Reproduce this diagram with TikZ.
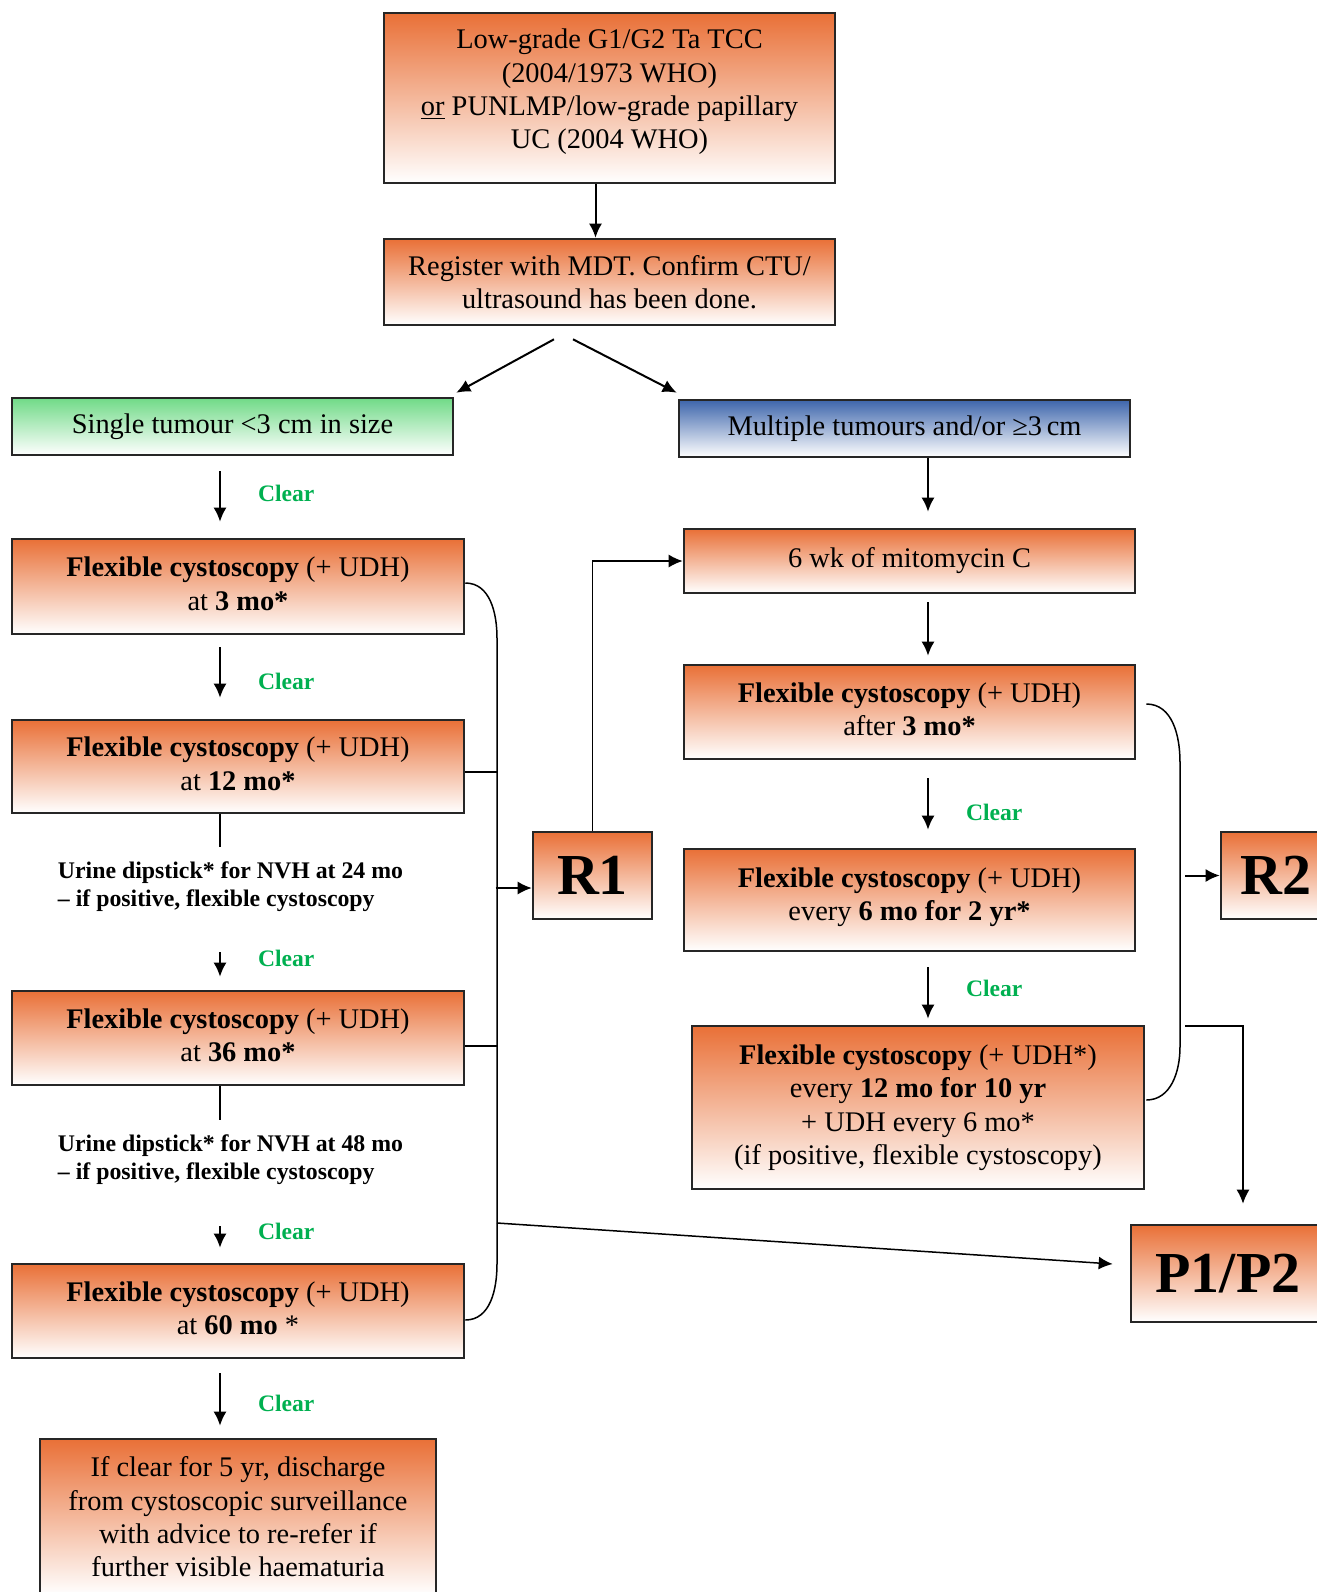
\documentclass[tikz,border=0pt]{standalone}
\usepackage{fontspec}
\setmainfont{Liberation Serif}
\usetikzlibrary{arrows.meta,calc}
\definecolor{orangetop}{RGB}{233,112,55}
\definecolor{greentop}{RGB}{112,218,135}
\definecolor{bluetop}{RGB}{62,102,172}
\definecolor{cleargreen}{RGB}{0,176,80}
\begin{document}
\begin{tikzpicture}[x=0.5pt,y=-0.5pt]
\tikzstyle{box}=[draw=black!85,line width=1.3pt,top color=orangetop,bottom color=white,align=center,inner sep=0pt,font=\fontsize{14.2}{16.7}\selectfont]
\tikzstyle{bigbox}=[box,font=\fontsize{29}{34}\selectfont\bfseries]
\tikzstyle{dip}=[align=left,inner sep=0pt,font=\fontsize{11.9}{14.3}\selectfont\bfseries]
\tikzstyle{clear}=[text=cleargreen,inner sep=0pt,right=18.5pt,font=\fontsize{11.8}{14}\selectfont\bfseries]
\tikzstyle{arr}=[draw,line width=1pt,-{Latex[length=7pt,width=6.5pt]}]
\tikzstyle{link}=[draw,line width=1pt]
\tikzstyle{bracket}=[draw,line width=0.75pt]
\useasboundingbox (0,0) rectangle (1317,1592);
% top of the chart
\node[box,minimum width=225.5pt,minimum height=85pt] (grade) at (609.5,98) {Low-grade G1/G2 Ta TCC\\(2004/1973 WHO)\\\underline{or} PUNLMP/low-grade papillary\\UC (2004 WHO)\rule[-9pt]{0pt}{0pt}};
\node[box,minimum width=225.5pt,minimum height=43pt] (mdt) at (609.5,282) {Register with MDT. Confirm CTU/\\ultrasound has been done.};
\node[box,top color=greentop,minimum width=220.5pt,minimum height=28.5pt] (single) at (232.5,426.5) {Single tumour <3 cm in size};
\node[box,top color=bluetop,minimum width=225.5pt,minimum height=28.5pt] (multi) at (904.5,428.5) {Multiple tumours and/or ≥3\,cm};
% left column
\node[box,minimum width=226pt,minimum height=47.5pt] (cysA) at (238,586.5) {\textbf{Flexible cystoscopy} (+ UDH)\\at \textbf{3 mo*}\rule[-3pt]{0pt}{0pt}};
\node[box,minimum width=226pt,minimum height=46.5pt] (cysB) at (238,766.5) {\textbf{Flexible cystoscopy} (+ UDH)\\at \textbf{12 mo*}\rule[-3pt]{0pt}{0pt}};
\node[dip] (dipA) at (230.5,886.5) {Urine dipstick* for NVH at 24 mo\\-- if positive, flexible cystoscopy};
\node[box,minimum width=226pt,minimum height=47pt] (cysC) at (238,1038) {\textbf{Flexible cystoscopy} (+ UDH)\\at \textbf{36 mo*}\rule[-3pt]{0pt}{0pt}};
\node[dip] (dipB) at (230.5,1159.5) {Urine dipstick* for NVH at 48 mo\\-- if positive, flexible cystoscopy};
\node[box,minimum width=226pt,minimum height=47pt] (cysD) at (238,1311) {\textbf{Flexible cystoscopy} (+ UDH)\\at \textbf{60 mo} *\rule[-3pt]{0pt}{0pt}};
\node[box,minimum width=198pt,minimum height=78pt] (discharge) at (238,1517) {If clear for 5 yr, discharge\\from cystoscopic surveillance\\with advice to re-refer if\\further visible haematuria};
\node[bigbox,minimum width=59.5pt,minimum height=43.5pt] (R1) at (592.5,875.5) {R1};
% right column
\node[box,minimum width=225.5pt,minimum height=32pt] (mito) at (909.5,561) {6 wk of mitomycin C\rule[-4pt]{0pt}{0pt}};
\node[box,minimum width=225.5pt,minimum height=47pt] (cysE) at (909.5,712) {\textbf{Flexible cystoscopy} (+ UDH)\\after \textbf{3 mo*}\rule[-3pt]{0pt}{0pt}};
\node[box,minimum width=225.5pt,minimum height=51pt] (cysF) at (909.5,900) {\textbf{Flexible cystoscopy} (+ UDH)\\every \textbf{6 mo for 2 yr*}\rule[-6pt]{0pt}{0pt}};
\node[box,minimum width=226pt,minimum height=81.5pt] (cysG) at (918,1107.5) {\textbf{Flexible cystoscopy} (+ UDH*)\\every \textbf{12 mo for 10 yr}\\+ UDH every 6 mo*\\(if positive, flexible cystoscopy)};
\node[bigbox,minimum width=55pt,minimum height=43.5pt] (R2) at (1276,875.5) {R2};
\node[bigbox,minimum width=97pt,minimum height=48.5pt] (P) at (1228,1273.5) {P1/P2};
% helper points
\coordinate (lcol) at (220,0);
\coordinate (rcol) at (928,0);
\coordinate (lbrT) at (497,638);
\coordinate (lbrB) at (497,1264);
\coordinate (lbrP) at (497,1223);
\coordinate (rbrT) at (1180,762);
\coordinate (rbrB) at (1180,1047);
\coordinate (rbrM) at (1185,875.5);
\coordinate (rbrP) at (1185,1026);
% arrows
\draw[arr] ([xshift=-7pt]grade.south) -- ([xshift=-7pt]mdt.north);
\draw[arr] ($(mdt.south)+(-55.5,13)$) -- ($(single.north east)+(2,-4)$);
\draw[arr] ($(mdt.south)+(-36.5,13)$) -- ($(multi.north west)+(-1,-6)$);
\draw[arr] ($(single.south -| lcol)+(0,15)$) -- node[clear,yshift=1.5pt] (clrA) {Clear} ($(cysA.north -| lcol)+(0,-16)$);
\draw[arr] ($(cysA.south -| lcol)+(0,12)$) -- node[clear,yshift=-4.5pt] (clrB) {Clear} ($(cysB.north -| lcol)+(0,-21)$);
\draw[link] (cysB.south -| lcol) -- ($(dipA.north -| lcol)+(0,-14)$);
\draw[arr] ($(dipA.south -| lcol)+(0,40)$) -- node[clear,yshift=3pt] (clrC) {Clear} ($(cysC.north -| lcol)+(0,-13)$);
\draw[link] (cysC.south -| lcol) -- ($(dipB.north -| lcol)+(0,-14)$);
\draw[arr] ($(dipB.south -| lcol)+(0,41)$) -- node[clear,yshift=3pt] (clrD) {Clear} ($(cysD.north -| lcol)+(0,-15)$);
\draw[arr] ($(cysD.south -| lcol)+(0,14)$) -- node[clear,yshift=-2pt] (clrE) {Clear} ($(discharge.north -| lcol)+(0,-12)$);
\draw[arr] (multi.south -| rcol) -- ($(mito.north -| rcol)+(0,-16)$);
\draw[arr] ($(mito.south -| rcol)+(0,8)$) -- ($(cysE.north -| rcol)+(0,-8)$);
\draw[arr] ($(cysE.south -| rcol)+(0,18)$) -- node[clear,yshift=-4pt] (clrF) {Clear} ($(cysF.north -| rcol)+(0,-18)$);
\draw[arr] ($(cysF.south -| rcol)+(0,15)$) -- node[clear,yshift=2.5pt] (clrG) {Clear} ($(cysG.north -| rcol)+(0,-6)$);
% brackets
\draw[bracket] ($(cysA.east)+(0,-3.5)$) to[out=0,in=90] (lbrT) -- (lbrB) to[out=-90,in=0] ($(cysD.east)+(0,9)$);
\draw[bracket] ($(cysB.east)+(0,5.5)$) -- ($(cysB.east)+(33,5.5)$);
\draw[bracket] ($(cysC.east)+(0,8)$) -- ($(cysC.east)+(33,8)$);
\draw[arr,line width=0.75pt] ($(R1.west)+(-36,12.5)$) -- ($(R1.west)+(0,12.5)$);
\draw[arr,line width=0.75pt] (lbrP) -- ($(P.west)+(-17,-9.5)$);
\draw[arr,line width=0.75pt] (R1.north) |- (mito.west);
\draw[bracket] ($(cysE.east)+(10,-8)$) to[out=0,in=90] (rbrT) -- (rbrB) to[out=-90,in=0] ($(cysG.east)+(1,-7.5)$);
\draw[arr] (rbrM) -- (R2.west);
\draw[arr,line width=0.75pt] (rbrP) -| ($(P.north)+(15,-20)$);
\end{tikzpicture}
\end{document}
